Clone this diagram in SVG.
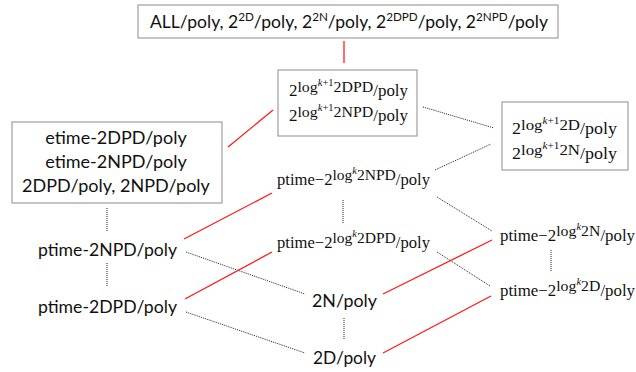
<svg xmlns="http://www.w3.org/2000/svg" width="636" height="372" viewBox="0 0 636 372">
<style>
.box{fill:#fff;stroke:#a6a6a6;stroke-width:1.3}
.sans{font-family:"Lato","Liberation Sans",sans-serif;font-size:18px;fill:#111}
.serif{font-family:"Liberation Serif","DejaVu Serif",serif;font-size:16px;fill:#111}
.red{stroke:#ff1a1a;stroke-width:1.3;fill:none}
.dot{stroke:#222;stroke-width:1;stroke-dasharray:1 1;fill:none}
</style>
<rect width="636" height="372" fill="#fff"/>
<g id="connectors">
<line class="red" x1="344" y1="41" x2="344" y2="63"/>
<line class="red" x1="228" y1="147" x2="273" y2="110"/>
<line class="dot" x1="423" y1="107" x2="494" y2="128"/>
<line class="dot" x1="435" y1="170" x2="491" y2="144"/>
<line class="dot" x1="107" y1="208" x2="107" y2="231"/>
<line class="dot" x1="107" y1="263" x2="107" y2="286"/>
<line class="dot" x1="343" y1="200" x2="343" y2="223"/>
<line class="dot" x1="551" y1="250" x2="551" y2="272"/>
<line class="dot" x1="344" y1="318" x2="344" y2="340"/>
<line class="red" x1="184" y1="239" x2="272" y2="193"/>
<line class="dot" x1="186" y1="252" x2="305" y2="294"/>
<line class="red" x1="185" y1="299" x2="272" y2="252"/>
<line class="dot" x1="186" y1="312" x2="305" y2="353"/>
<line class="dot" x1="437" y1="197" x2="492" y2="231"/>
<line class="dot" x1="437" y1="252" x2="490" y2="286"/>
<line class="red" x1="383" y1="294" x2="492" y2="240"/>
<line class="red" x1="383" y1="353" x2="491" y2="296"/>
</g>
<g id="top">
<rect class="box" x="138" y="5" width="420" height="33"/>
<text class="sans" x="150" y="28" textLength="398" lengthAdjust="spacingAndGlyphs">ALL/poly, 2<tspan font-size="12" dy="-7">2D</tspan><tspan dy="7">/poly, 2</tspan><tspan font-size="12" dy="-7">2N</tspan><tspan dy="7">/poly, 2</tspan><tspan font-size="12" dy="-7">2DPD</tspan><tspan dy="7">/poly, 2</tspan><tspan font-size="12" dy="-7">2NPD</tspan><tspan dy="7">/poly</tspan></text>
</g>
<g id="logk1-pd">
<rect class="box" x="278" y="70" width="139" height="66"/>
<text class="serif" x="289" y="96" textLength="119" lengthAdjust="spacingAndGlyphs">2<tspan font-size="15" dy="-4">log</tspan><tspan font-size="10" dy="-6" font-style="italic">k</tspan><tspan font-size="10">+1</tspan><tspan font-size="15" dy="6">2DPD</tspan><tspan dy="4">/poly</tspan></text>
<text class="serif" x="289" y="121" textLength="119" lengthAdjust="spacingAndGlyphs">2<tspan font-size="15" dy="-4">log</tspan><tspan font-size="10" dy="-6" font-style="italic">k</tspan><tspan font-size="10">+1</tspan><tspan font-size="15" dy="6">2NPD</tspan><tspan dy="4">/poly</tspan></text>
</g>
<g id="logk1">
<rect class="box" x="502" y="102" width="126" height="68"/>
<text class="serif" x="512" y="134" textLength="105" lengthAdjust="spacingAndGlyphs">2<tspan font-size="15" dy="-4">log</tspan><tspan font-size="10" dy="-6" font-style="italic">k</tspan><tspan font-size="10">+1</tspan><tspan font-size="15" dy="6">2D</tspan><tspan dy="4">/poly</tspan></text>
<text class="serif" x="512" y="159" textLength="105" lengthAdjust="spacingAndGlyphs">2<tspan font-size="15" dy="-4">log</tspan><tspan font-size="10" dy="-6" font-style="italic">k</tspan><tspan font-size="10">+1</tspan><tspan font-size="15" dy="6">2N</tspan><tspan dy="4">/poly</tspan></text>
</g>
<g id="etime">
<rect class="box" x="12" y="122" width="210" height="81"/>
<text class="sans" x="116" y="144" text-anchor="middle">etime-2DPD/poly</text>
<text class="sans" x="116" y="168" text-anchor="middle">etime-2NPD/poly</text>
<text class="sans" x="116" y="192" text-anchor="middle">2DPD/poly, 2NPD/poly</text>
</g>
<g id="ptime-logk-npd">
<text class="serif" x="277" y="185" textLength="153" lengthAdjust="spacingAndGlyphs">ptime−2<tspan font-size="15" dy="-5">log</tspan><tspan font-size="10" dy="-6" font-style="italic">k</tspan><tspan font-size="15" dy="6">2NPD</tspan><tspan dy="5">/poly</tspan></text>
</g>
<g id="ptime-logk-dpd">
<text class="serif" x="277" y="248" textLength="153" lengthAdjust="spacingAndGlyphs">ptime−2<tspan font-size="15" dy="-5">log</tspan><tspan font-size="10" dy="-6" font-style="italic">k</tspan><tspan font-size="15" dy="6">2DPD</tspan><tspan dy="5">/poly</tspan></text>
</g>
<g id="ptime-logk-n">
<text class="serif" x="500" y="241" textLength="135" lengthAdjust="spacingAndGlyphs">ptime−2<tspan font-size="15" dy="-5">log</tspan><tspan font-size="10" dy="-6" font-style="italic">k</tspan><tspan font-size="15" dy="6">2N</tspan><tspan dy="5">/poly</tspan></text>
</g>
<g id="ptime-logk-d">
<text class="serif" x="500" y="296" textLength="135" lengthAdjust="spacingAndGlyphs">ptime−2<tspan font-size="15" dy="-5">log</tspan><tspan font-size="10" dy="-6" font-style="italic">k</tspan><tspan font-size="15" dy="6">2D</tspan><tspan dy="5">/poly</tspan></text>
</g>
<g id="ptime-npd">
<text class="sans" x="38" y="256" textLength="139" lengthAdjust="spacingAndGlyphs">ptime-2NPD/poly</text>
</g>
<g id="ptime-dpd">
<text class="sans" x="38" y="313" textLength="139" lengthAdjust="spacingAndGlyphs">ptime-2DPD/poly</text>
</g>
<g id="n-poly">
<text class="sans" x="312" y="307" textLength="65" lengthAdjust="spacingAndGlyphs">2N/poly</text>
</g>
<g id="d-poly">
<text class="sans" x="313" y="364" textLength="63" lengthAdjust="spacingAndGlyphs">2D/poly</text>
</g>
</svg>
